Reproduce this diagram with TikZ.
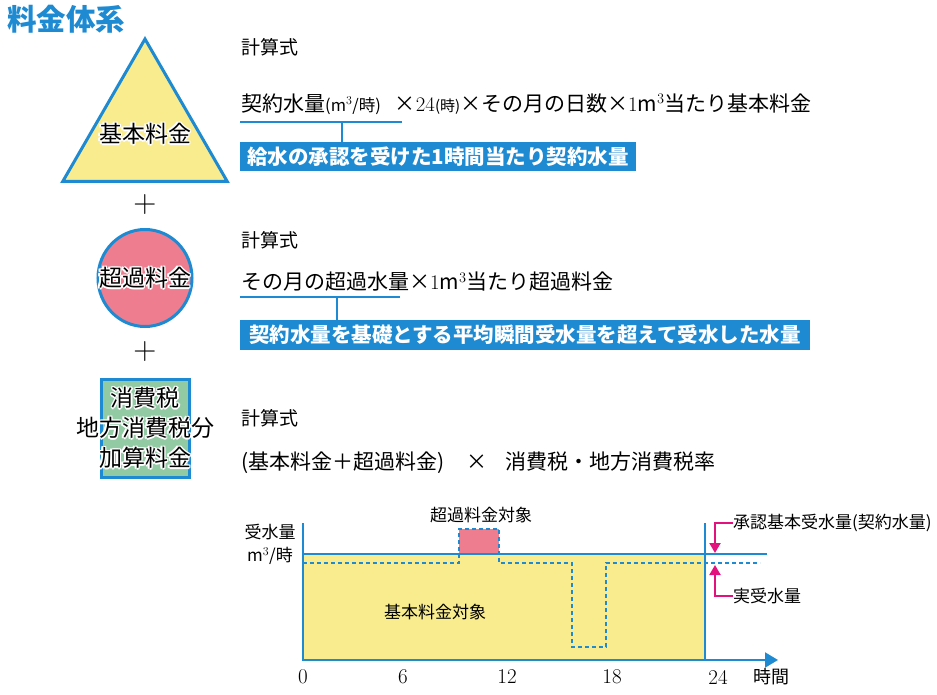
\documentclass[tikz,border=0pt]{standalone}
\usepackage{fontspec}
\usepackage{tikz}
\usetikzlibrary{shapes.geometric,arrows.meta}

\newfontfamily\jp{Noto Sans CJK JP}
\newcommand{\fsz}[1]{\fontsize{#1}{#1}\selectfont}

\definecolor{feeblue}{HTML}{1E8AD2}
\definecolor{feeyellow}{HTML}{F8EC8E}
\definecolor{feepink}{HTML}{EE7D90}
\definecolor{feegreen}{HTML}{92CAA4}
\definecolor{feemagenta}{HTML}{E2117E}

% black label with a white rim
\newcommand{\rimtext}[3]{%
  \foreach \dx/\dy in {1.5/0,-1.5/0,0/1.5,0/-1.5,1.1/1.1,1.1/-1.1,-1.1/1.1,-1.1/-1.1}
    \node[bigtext,white] at ([shift={(\dx,\dy)}]#1) {#3};
  \node[bigtext] (#2) at (#1) {#3};}

\tikzset{
  shapeline/.style={draw=feeblue, line width=3pt},
  bigtext/.style={font=\jp\fontsize{23}{30}\selectfont, align=center, inner sep=0pt},
  plus/.style={font=\fsz{32}, inner sep=0pt},
  calc/.style={font=\jp\fsz{19}, anchor=west, inner sep=0pt},
  formula/.style={font=\jp\fsz{21}, anchor=west, inner sep=0pt},
  link/.style={draw=feeblue, line width=1.6pt},
  notebox/.style={fill=feeblue, text=white, font=\jp\bfseries\fsz{20.5}, inner sep=0pt},
  chartline/.style={draw=feeblue, line width=1.8pt},
  actual/.style={draw=feeblue, line width=1.3pt, dash pattern=on 4pt off 3pt},
  chartlabel/.style={font=\jp\fsz{17}, inner sep=0pt},
  tick/.style={font=\fsz{21}, inner sep=0pt},
  pinkarrow/.style={draw=feemagenta, line width=2pt, -{Triangle[length=10pt,width=11pt]}}
}

\begin{document}
\begin{tikzpicture}[x=1pt, y=-1pt]
\useasboundingbox (0,0) rectangle (937,695);

\node[font=\jp\bfseries\fsz{29.5}, text=feeblue, anchor=west, inner sep=0pt] (title) at (7,19) {料金体系};

% left column
\node[regular polygon, regular polygon sides=3, minimum size=190pt, inner sep=0pt,
      shapeline, fill=feeyellow] (kihon) at (145,134) {};
\rimtext{kihon.center}{kihonT}{基本料金}
\node[plus] (plusA) at (145,205) {+};
\node[ellipse, minimum width=94pt, minimum height=97pt, shapeline, fill=feepink] (choka) at (145,278) {};
\rimtext{choka.center}{chokaT}{超過料金}
\node[plus] (plusB) at (145,352) {+};
\node[rectangle, minimum width=88pt, minimum height=98pt, shapeline, fill=feegreen] (zei) at (145,428) {};
\rimtext{zei.center}{zeiT}{消費税\\地方消費税分\\加算料金}

% basic charge
\node[calc] (calcA) at (241,47) {計算式};
\node[formula] (fA) at (241,104) {契約水量{\fsz{16.5}(m$^3$/時)}\hspace{14pt}×$24${\fsz{15}(時)}×その月の日数×$1$m$^{\scriptstyle 3}$当たり基本料金};
\coordinate (uA1) at (240,122);
\coordinate (uA2) at (402,122);
\coordinate (uAm) at (342,122);
\node[notebox, minimum width=396pt, minimum height=29pt] (boxA) at (438,157) {給水の承認を受けた1時間当たり契約水量};
\draw[link] (uA1) -- (uA2);
\draw[link] (uAm) -- (uAm |- boxA.north);

% excess charge
\node[calc] (calcB) at (241,240) {計算式};
\node[formula] (fB) at (241,282) {その月の超過水量×$1$m$^{\scriptstyle 3}$当たり超過料金};
\coordinate (uB1) at (240,297);
\coordinate (uB2) at (400,297);
\coordinate (uBm) at (337,297);
\node[notebox, minimum width=570pt, minimum height=30pt] (boxB) at (525,335) {契約水量を基礎とする平均瞬間受水量を超えて受水した水量};
\draw[link] (uB1) -- (uB2);
\draw[link] (uBm) -- (uBm |- boxB.north);

% tax
\node[calc] (calcC) at (241,418) {計算式};
\node[formula] (fC) at (241,463) {(基本料金＋超過料金)\hspace{22pt}×\hspace{18pt}消費税・地方消費税率};

% chart
\fill[feeyellow] (303,555) rectangle (705,660);
\fill[feepink] (459,529) rectangle (499,555);
\draw[chartline] (303,554) -- (767,554);
\draw[actual] (303,563) -- (459,563) -- (459,529) -- (499,529) -- (499,563) -- (572,563)
  -- (572,647) -- (606,647) -- (606,563) -- (760,563);
\draw[chartline, line width=2pt, -{Triangle[length=13pt,width=15pt]}] (303,523) -- (303,660) -- (778,660);
\draw[chartline, line width=1.5pt] (705,523) -- (705,660);

\node[chartlabel] (yA) at (270,532) {受水量};
\node[chartlabel] (yB) at (270,556) {m$^3$/時};
\node[chartlabel] (overT) at (481,515) {超過料金対象};
\node[chartlabel] (baseT) at (435,612) {基本料金対象};
\node[chartlabel, anchor=west] (lblA) at (733,523) {承認基本受水量(契約水量)};
\node[chartlabel, anchor=west] (lblB) at (733,596) {実受水量};
\coordinate (tipA) at (715,553);
\coordinate (tipB) at (715,565);
\draw[pinkarrow] (lblA.west) -| (tipA);
\draw[pinkarrow] (lblB.west) -| (tipB);

\node[tick] (t0) at (303,677) {0};
\node[tick] (t6) at (403,677) {6};
\node[tick] (t12) at (507,677) {12};
\node[tick] (t18) at (612,677) {18};
\node[tick] (t24) at (718,677) {24};
\node[chartlabel, font=\jp\fsz{18}] (hrs) at (771,677) {時間};
\end{tikzpicture}
\end{document}
